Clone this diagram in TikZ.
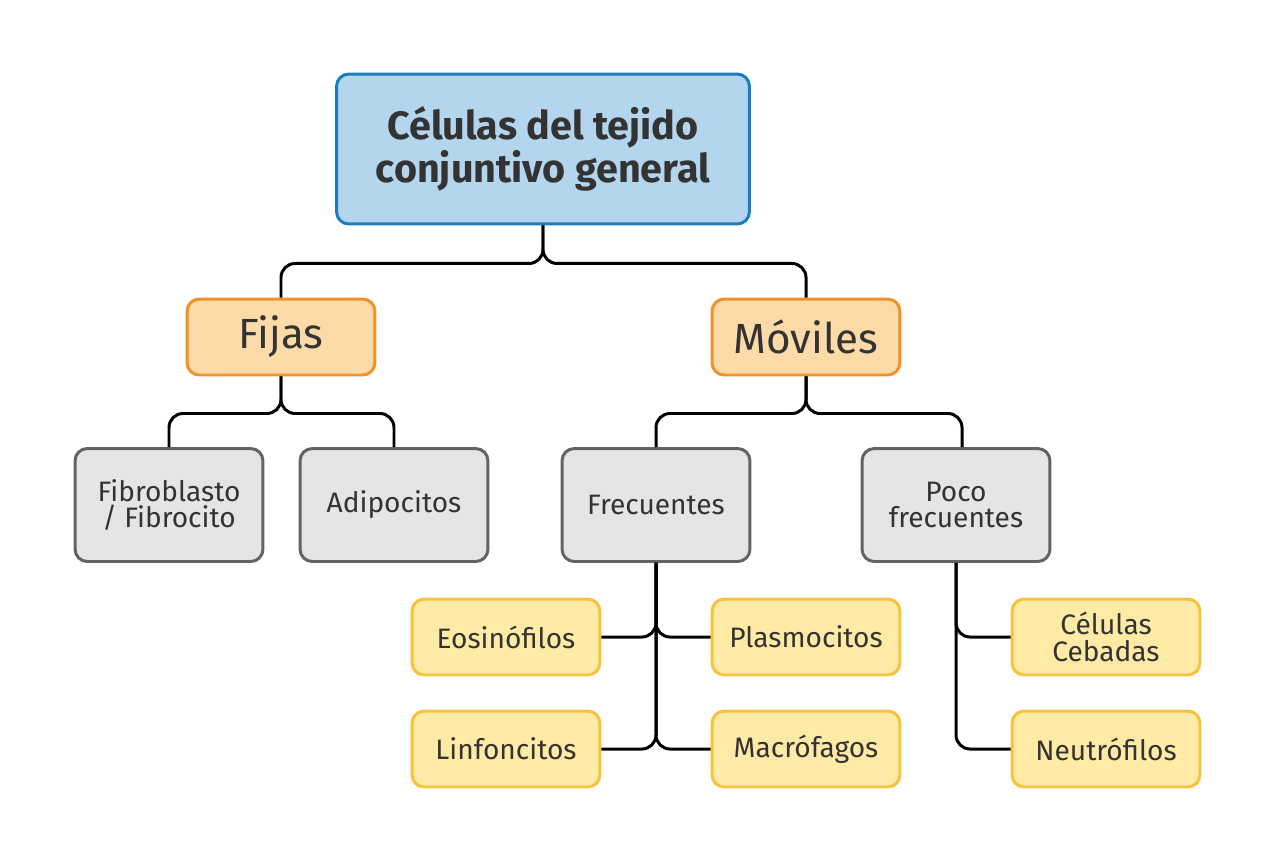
\documentclass[tikz,border=0pt]{standalone}
\usepackage{fontspec}
\setmainfont{Fira Sans}
\usepackage{tikz}
\usetikzlibrary{arrows,positioning,calc}
\definecolor{titlefill}{HTML}{B3D6EE}
\definecolor{titleline}{HTML}{1A7DBF}
\definecolor{groupfill}{HTML}{FDDBA8}
\definecolor{groupline}{HTML}{F0922A}
\definecolor{kindfill}{HTML}{E5E5E5}
\definecolor{kindline}{HTML}{636363}
\definecolor{cellfill}{HTML}{FFEBA5}
\definecolor{cellline}{HTML}{F8C33A}
\definecolor{txt}{HTML}{333333}
\tikzstyle{box} = [draw,line width=1.7pt,rounded corners=7pt,inner sep=2pt,align=center,text=txt]
\tikzstyle{maintitle} = [box,fill=titlefill,draw=titleline,minimum width=8.26cm,minimum height=3cm,font=\fontsize{22.5}{21.5}\selectfont\bfseries]
\tikzstyle{group} = [box,fill=groupfill,draw=groupline,minimum width=3.76cm,minimum height=1.52cm,font=\fontsize{24}{28}\selectfont]
\tikzstyle{kind} = [box,fill=kindfill,draw=kindline,minimum width=3.76cm,minimum height=2.26cm,font=\fontsize{16}{15.3}\selectfont]
\tikzstyle{cell} = [box,fill=cellfill,draw=cellline,minimum width=3.76cm,minimum height=1.52cm,font=\fontsize{16}{15.3}\selectfont]
\tikzstyle{branch} = [line width=1.7pt,rounded corners=8pt]

\begin{document}
\begin{tikzpicture}[x=0.02cm,y=-0.02cm]
                  \useasboundingbox (0,0) rectangle (1275,863);
                  \node (title)[maintitle]  at (543,149) {Células del tejido\\conjuntivo general};
                  \node (fijas)[group]  at (281,337) {Fijas};
                  \node (moviles)[group]  at (806,337) {Móviles};

                  \node (fibro)[kind]  at (169,505) {Fibroblasto\\/ Fibrocito};
                  \node (adipo)[kind]  at (394,505) {Adipocitos};
                  \node (frec)[kind]  at (656,505) {Frecuentes};
                  \node (poco)[kind]  at (956,505) {Poco\\frecuentes};

                  \node (eos)[cell]  at (506,637) {Eosinófilos};
                  \node (plasmo)[cell]  at (806,637) {Plasmocitos};
                  \node (linfo)[cell]  at (506,749) {Linfoncitos};
                  \node (macro)[cell]  at (806,749) {Macrófagos};
                  \node (cebadas)[cell]  at (1106,637) {Células\\Cebadas};
                  \node (neutro)[cell]  at (1106,749) {Neutrófilos};

                  \draw[branch] (title.south) -- ++(0,38) -| (fijas.north);
                  \draw[branch] (title.south) -- ++(0,38) -| (moviles.north);
                  \draw[branch] (fijas.south) -- ++(0,37) -| (fibro.north);
                  \draw[branch] (fijas.south) -- ++(0,37) -| (adipo.north);
                  \draw[branch] (moviles.south) -- ++(0,37) -| (frec.north);
                  \draw[branch] (moviles.south) -- ++(0,37) -| ([xshift=0.12cm]poco.north);

                  \draw[branch] (frec.south) |- (eos.east);
                  \draw[branch] (frec.south) |- (plasmo.west);
                  \draw[branch] (frec.south) |- (linfo.east);
                  \draw[branch] (frec.south) |- (macro.west);
                  \draw[branch] (poco.south) |- (cebadas.west);
                  \draw[branch] (poco.south) |- (neutro.west);
            \end{tikzpicture}
\end{document}
